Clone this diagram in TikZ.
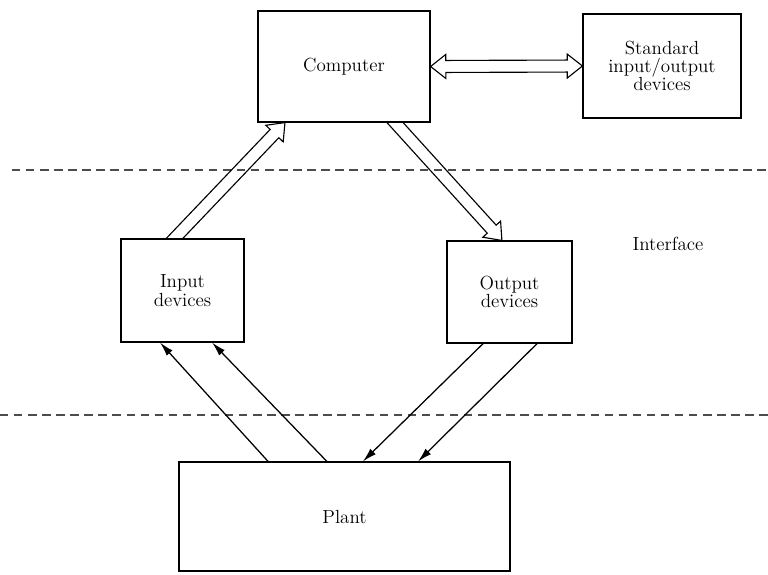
\documentclass[tikz,border=0pt]{standalone}
\usepackage{tikz}
\usetikzlibrary{positioning}
\usetikzlibrary{calc}
\usetikzlibrary{arrows.meta}
\tikzstyle{block} = [draw, rectangle, line width=0.8pt, align=center, font=\fontsize{13.5}{13}\selectfont]
\tikzstyle{note} = [align=center, font=\fontsize{13.5}{13}\selectfont]
\tikzstyle{fat} = [line width=0.8pt, line join=miter]
\tikzstyle{sig} = [line width=0.9pt, -{Latex[length=10pt,width=5.5pt]}]
\tikzstyle{border} = [line width=0.8pt, gray!60!black, dash pattern=on 6pt off 4pt]
\newcommand{\fatw}{0.15cm}
\newcommand{\fathw}{0.3cm}
\newcommand{\fath}{0.38cm}
% hollow block arrow, one head; shaft cut at the edge #3--#4
\newcommand{\fatarrow}[4]{%
  \coordinate (fa-s) at (#1);
  \coordinate (fa-e) at (#2);
  \coordinate (fa-b) at ($(fa-e)!\fath!(fa-s)$);
  \coordinate (fa-l1) at ($(fa-s)!\fatw!90:(fa-e)$);
  \coordinate (fa-l2) at ($(fa-b)!\fatw!90:(fa-e)$);
  \coordinate (fa-r1) at ($(fa-s)!\fatw!-90:(fa-e)$);
  \coordinate (fa-r2) at ($(fa-b)!\fatw!-90:(fa-e)$);
  \draw [fat] (intersection of fa-l1--fa-l2 and #3--#4) -- (fa-l2)
    -- ($(fa-b)!\fathw!90:(fa-e)$) -- (fa-e) -- ($(fa-b)!\fathw!-90:(fa-e)$)
    -- (fa-r2) -- (intersection of fa-r1--fa-r2 and #3--#4);
}
% hollow block arrow, two heads
\newcommand{\fatboth}[2]{%
  \coordinate (fa-s) at (#1);
  \coordinate (fa-e) at (#2);
  \coordinate (fa-bs) at ($(fa-s)!\fath!(fa-e)$);
  \coordinate (fa-be) at ($(fa-e)!\fath!(fa-s)$);
  \draw [fat] (fa-s) -- ($(fa-bs)!\fathw!90:(fa-e)$) -- ($(fa-bs)!\fatw!90:(fa-e)$)
    -- ($(fa-be)!\fatw!90:(fa-e)$) -- ($(fa-be)!\fathw!90:(fa-e)$) -- (fa-e)
    -- ($(fa-be)!\fathw!-90:(fa-e)$) -- ($(fa-be)!\fatw!-90:(fa-e)$)
    -- ($(fa-bs)!\fatw!-90:(fa-e)$) -- ($(fa-bs)!\fathw!-90:(fa-e)$) -- cycle;
}

\begin{document}
\begin{tikzpicture}[x=0.025cm, y=-0.025cm]
    \useasboundingbox (0,0) rectangle (768,574);
    \node [block, minimum width=4.3cm, minimum height=2.775cm] (computer) at (344,66.5) {Computer};
    \node [block, minimum width=3.95cm, minimum height=2.6cm] (stdio) at (662,66) {Standard\\input/output\\devices};
    \node [block, minimum width=3.075cm, minimum height=2.575cm] (input) at (182.5,290.5) {Input\\devices};
    \node [block, minimum width=3.125cm, minimum height=2.55cm] (output) at (509.5,292) {Output\\devices};
    \node [block, minimum width=8.275cm, minimum height=2.725cm] (plant) at (344.5,516.5) {Plant};
    \node [note] (interface) at (668,244) {Interface};

    % interface borders
    \coordinate (upl) at (12,170);
    \coordinate (upr) at (768,170);
    \coordinate (lowl) at (0,415);
    \coordinate (lowr) at (768,415);
    \draw [border] (upl) -- (upr);
    \draw [border] (lowl) -- (lowr);

    \fatboth{computer.east}{stdio.west}
    \fatarrow{[xshift=-0.2cm]input.north}{[xshift=-1.475cm]computer.south}{input.north west}{input.north east}
    \fatarrow{[xshift=1.275cm]computer.south}{[xshift=-0.19cm]output.north}{computer.south west}{computer.south east}

    \draw [sig] ([xshift=-1.91cm]plant.north) -- ([xshift=-0.56cm]input.south);
    \draw [sig] ([xshift=-0.44cm]plant.north) -- ([xshift=0.74cm]input.south);
    \draw [sig] ([xshift=-0.66cm]output.south) -- ([xshift=0.46cm]plant.north);
    \draw [sig] ([xshift=0.69cm]output.south) -- ([xshift=1.84cm]plant.north);
\end{tikzpicture}
\end{document}
